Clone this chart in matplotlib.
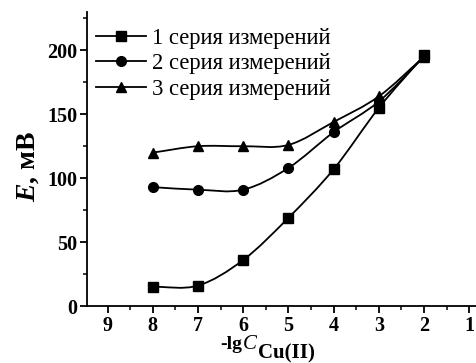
import numpy as np
import matplotlib
matplotlib.use("Agg")
import matplotlib.pyplot as plt
from matplotlib.path import Path
from matplotlib.patches import PathPatch
from matplotlib.ticker import MultipleLocator
from matplotlib.lines import Line2D

plt.rcParams['font.family'] = ['Liberation Serif', 'DejaVu Serif']
plt.rcParams['mathtext.fontset'] = 'custom'
plt.rcParams['mathtext.rm'] = 'Liberation Serif:bold'
plt.rcParams['mathtext.it'] = 'Liberation Serif:italic'
plt.rcParams['mathtext.bf'] = 'Liberation Serif:bold'
plt.rcParams['mathtext.bfit'] = 'Liberation Serif:italic:bold'

x = [8, 7, 6, 5, 4, 3, 2]
series1 = [15, 16, 36, 69, 107, 155, 196]
series2 = [93, 91, 91, 108, 136, 160, 195]
series3 = [120, 125, 125, 126, 144, 164, 195]
labels = ["1 серия измерений", "2 серия измерений", "3 серия измерений"]
markers = ["s", "o", "^"]
xticks = [9, 8, 7, 6, 5, 4, 3, 2, 1]
yticks = [0, 50, 100, 150, 200]

fig = plt.figure(figsize=(4.77, 3.63), dpi=100)
ax = fig.add_axes([0.182, 0.157, 0.816, 0.81])


def smooth_path(xs, ys):
    # Catmull-Rom style smooth curve through the points, as Bezier segments
    xs = np.asarray(xs, float)
    ys = np.asarray(ys, float)
    n = len(xs)
    m = np.zeros(n)
    m[0] = (ys[1] - ys[0]) / (xs[1] - xs[0])
    m[-1] = (ys[-1] - ys[-2]) / (xs[-1] - xs[-2])
    for i in range(1, n - 1):
        m[i] = (ys[i + 1] - ys[i - 1]) / (xs[i + 1] - xs[i - 1])
    verts = [(xs[0], ys[0])]
    codes = [Path.MOVETO]
    for i in range(n - 1):
        dx = (xs[i + 1] - xs[i]) / 3
        verts += [(xs[i] + dx, ys[i] + m[i] * dx),
                  (xs[i + 1] - dx, ys[i + 1] - m[i + 1] * dx),
                  (xs[i + 1], ys[i + 1])]
        codes += [Path.CURVE4] * 3
    return Path(verts, codes)


for ys, mk, lab in zip([series1, series2, series3], markers, labels):
    ax.add_patch(PathPatch(smooth_path(x, ys), fill=False, lw=1.3, ec='black'))
    ax.plot(x, ys, lw=0, marker=mk, ms=7, color='black', label=lab)

handles = [Line2D([], [], color='black', lw=1.3, marker=mk, ms=7) for mk in markers]
ax.legend(handles, labels, loc='upper left', frameon=False, fontsize=16.3,
          handlelength=2.2, handletextpad=0.3, labelspacing=0.2,
          borderaxespad=0.0, bbox_to_anchor=(0.0, 0.978))

ax.set_xlim(9.46, 0.85)
ax.set_ylim(0, 230)
ax.set_xticks(xticks)
ax.set_yticks(yticks)
ax.xaxis.set_minor_locator(MultipleLocator(0.5))
ax.yaxis.set_minor_locator(MultipleLocator(25))
ax.spines['top'].set_visible(False)
ax.spines['right'].set_visible(False)
for s in ['left', 'bottom']:
    ax.spines[s].set_linewidth(1.3)
ax.tick_params(axis='both', which='major', direction='out', length=5, width=1.3,
               labelsize=14.5, pad=2)
ax.tick_params(axis='both', which='minor', direction='out', length=3, width=1.1)
for t in ax.get_xticklabels() + ax.get_yticklabels():
    t.set_fontweight('bold')

# y label
fig.text(0.06, 0.543, r'$\mathbfit{E}$, мВ', fontsize=20, fontweight='bold',
         rotation=90, ha='center', va='center')

# x label, built from pieces
base_y = 1 - 349 / 363
t1 = fig.text(220 / 477, base_y, '-lg', fontsize=14, fontweight='bold',
              va='baseline', ha='left')
fig.canvas.draw()
r = fig.canvas.get_renderer()
bb = t1.get_window_extent(r)
t2 = fig.text(bb.x1 / 477 + 0.002, base_y, 'C', fontsize=15, fontstyle='italic',
              va='baseline', ha='left')
fig.canvas.draw()
bb2 = t2.get_window_extent(r)
fig.text(bb2.x1 / 477 + 0.002, 1 - 358 / 363, 'Cu(II)', fontsize=15,
         fontweight='bold', va='baseline', ha='left')

fig.savefig('out.png', dpi=100)
